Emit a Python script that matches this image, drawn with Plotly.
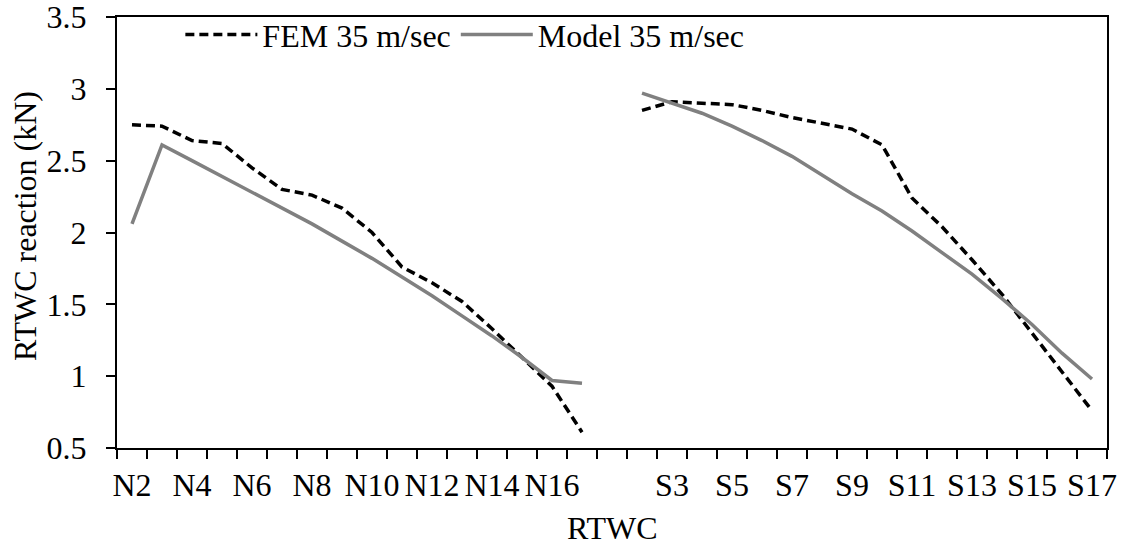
import plotly.graph_objects as go

# ---- data ----
categories_N = ["N2", "N3", "N4", "N5", "N6", "N7", "N8", "N9", "N10",
                "N11", "N12", "N13", "N14", "N15", "N16", "N17"]
categories_S = ["S2", "S3", "S4", "S5", "S6", "S7", "S8", "S9", "S10",
                "S11", "S12", "S13", "S14", "S15", "S16", "S17"]
gap = [""]

fem_N = [2.75, 2.74, 2.64, 2.62, 2.45, 2.30, 2.26, 2.17, 2.00,
         1.76, 1.65, 1.52, 1.33, 1.13, 0.93, 0.61]
model_N = [2.06, 2.61, 2.50, 2.39, 2.28, 2.17, 2.06, 1.94, 1.82,
           1.69, 1.56, 1.42, 1.28, 1.13, 0.97, 0.95]
fem_S = [2.85, 2.91, 2.90, 2.89, 2.85, 2.80, 2.76, 2.72, 2.61,
         2.24, 2.04, 1.81, 1.57, 1.30, 1.02, 0.76]
model_S = [2.97, 2.90, 2.83, 2.74, 2.64, 2.53, 2.40, 2.27, 2.15,
           2.01, 1.86, 1.71, 1.54, 1.36, 1.16, 0.98]

y_ticks = [0.5, 1, 1.5, 2, 2.5, 3, 3.5]

x_title = "RTWC"
y_title = "RTWC reaction (kN)"

# ---- build ----
all_cats = categories_N + gap + categories_S
xpos = list(range(len(all_cats)))
fem = fem_N + [None] + fem_S
model = model_N + [None] + model_S

label_vals = [i for i, c in enumerate(all_cats) if i % 2 == 0]
label_text = [all_cats[i] for i in label_vals]
boundaries = [i - 0.5 for i in range(len(all_cats) + 1)]

FONT = "Liberation Serif, Times New Roman, serif"

fig = go.Figure()
fig.add_trace(go.Scatter(
    x=xpos, y=fem, mode="lines", name="FEM 35 m/sec",
    line=dict(color="black", width=3.5, dash="9px,5px"),
    connectgaps=False,
))
fig.add_trace(go.Scatter(
    x=xpos, y=model, mode="lines", name="Model 35 m/sec",
    line=dict(color="#808080", width=3.5),
    connectgaps=False,
))

fig.update_layout(
    width=1121, height=546,
    margin=dict(l=117, r=14, t=17, b=98, autoexpand=False),
    paper_bgcolor="white", plot_bgcolor="white",
    font=dict(family=FONT, size=32, color="black"),
    showlegend=True,
    legend=dict(
        orientation="h", x=0.064, y=1.023, xanchor="left", yanchor="top",
        bgcolor="rgba(0,0,0,0)", font=dict(size=32), itemwidth=72,
        tracegroupgap=0,
    ),
    xaxis=dict(
        range=[-0.5, len(all_cats) - 0.5],
        tickmode="array", tickvals=label_vals, ticktext=label_text,
        ticks="", showgrid=False, zeroline=False, automargin=False,
        showline=True, linecolor="black", linewidth=2, mirror=True,
        ticklabelstandoff=8, ticklabeloverflow="allow",
        minor=dict(tickmode="array", tickvals=boundaries, ticks="outside",
                   ticklen=9, tickwidth=2, tickcolor="black", showgrid=False),
    ),
    yaxis=dict(
        range=[0.5, 3.5], tickmode="array", tickvals=y_ticks,
        ticks="outside", ticklen=9, tickwidth=2, tickcolor="black",
        showgrid=False, zeroline=False, automargin=False,
        showline=True, linecolor="black", linewidth=2, mirror=True,
        ticklabelstandoff=13, ticklabeloverflow="allow",
    ),
    annotations=[
        dict(text=x_title, xref="paper", yref="paper", x=0.5, y=-0.186,
             xanchor="center", yanchor="middle", showarrow=False,
             font=dict(size=32)),
        dict(text=y_title, xref="paper", yref="paper", x=-0.093, y=0.515,
             xanchor="center", yanchor="middle", textangle=-90,
             showarrow=False, font=dict(size=32)),
    ],
)

fig.write_html("out.html")
